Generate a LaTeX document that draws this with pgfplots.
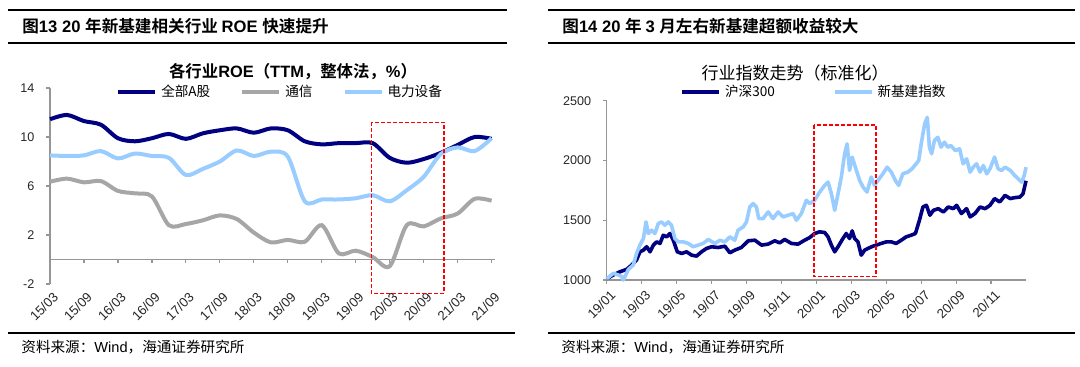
\documentclass[border=0pt]{standalone}
\usepackage{fontspec}
\usepackage{pgfplots}
\usepackage{pgfplotstable}
\pgfplotsset{compat=1.18}
\setmainfont{Liberation Sans}
\newfontfamily\cjk{Noto Sans CJK SC}
\newfontfamily\cjkb{Noto Sans CJK SC Bold}
\definecolor{navyc}{RGB}{0,0,128}
\definecolor{grayc}{RGB}{166,166,166}
\definecolor{lbluec}{RGB}{153,204,255}
\definecolor{axisc}{RGB}{150,150,150}
\definecolor{redc}{RGB}{255,0,0}

\pgfplotstableread{
q dark gray light
0 11.45 6.35 8.5
1 11.8 6.6 8.45
2 11.3 6.3 8.5
3 11.0 6.4 8.85
4 9.9 5.6 8.25
5 9.65 5.4 8.65
6 9.9 5.15 8.45
7 10.25 2.8 8.3
8 9.85 2.9 6.9
9 10.3 3.2 7.4
10 10.55 3.6 8.0
11 10.7 3.3 8.9
12 10.35 2.2 8.45
13 10.7 1.4 8.8
14 10.55 1.6 8.4
15 9.65 1.45 4.75
16 9.4 2.8 4.9
17 9.5 0.5 4.9
18 9.5 0.72 5.0
19 9.5 0.2 5.25
20 8.3 -0.55 4.75
21 7.9 2.8 5.65
22 8.2 2.7 6.75
23 8.7 3.35 8.6
24 9.35 3.75 9.15
25 10.0 4.95 8.85
26 9.85 4.8 9.9
}\roetable

\pgfplotstableread{
m v
0 1010
0.38 1042
0.76 1069
1.14 1089
1.43 1125
1.71 1167
1.9 1236
2.1 1250
2.29 1278
2.48 1236
2.67 1292
2.86 1319
3.05 1306
3.24 1375
3.43 1361
3.62 1389
3.81 1333
4.04 1236
4.29 1222
4.57 1236
4.86 1208
5.14 1200
5.43 1236
5.71 1264
6.0 1278
6.38 1272
6.76 1283
7.05 1228
7.33 1250
7.71 1272
8.1 1328
8.48 1333
8.86 1292
9.24 1300
9.62 1328
9.9 1311
10.19 1339
10.57 1306
10.95 1300
11.33 1333
11.62 1355
11.9 1389
12.19 1403
12.48 1397
12.67 1361
12.86 1292
13.05 1236
13.24 1278
13.52 1347
13.71 1389
13.9 1347
14.05 1411
14.19 1347
14.38 1319
14.57 1208
14.76 1250
14.95 1264
15.24 1283
15.43 1292
15.71 1306
16.0 1319
16.29 1319
16.57 1306
16.86 1333
17.14 1361
17.43 1375
17.67 1389
17.9 1500
18.1 1611
18.3 1625
18.5 1542
18.7 1583
18.98 1597
19.27 1569
19.55 1611
19.84 1597
20.03 1625
20.3 1556
20.6 1597
20.8 1528
21.08 1556
21.37 1611
21.66 1597
21.94 1625
22.2 1681
22.5 1653
22.8 1708
23.1 1681
23.35 1689
23.65 1694
23.83 1722
24.0 1830
}\hsdata

\pgfplotstableread{
m v
0 1010
0.38 1056
0.67 1042
0.85 1030
0.95 1000
1.05 1030
1.24 1089
1.52 1125
1.71 1222
1.9 1292
2.1 1347
2.25 1486
2.38 1389
2.57 1417
2.76 1389
2.95 1472
3.14 1486
3.33 1458
3.52 1486
3.71 1458
3.9 1347
4.1 1319
4.38 1319
4.67 1306
4.95 1278
5.24 1292
5.52 1306
5.81 1339
6.19 1306
6.48 1333
6.76 1319
7.05 1361
7.33 1333
7.52 1417
7.81 1444
8.0 1486
8.19 1611
8.38 1639
8.57 1611
8.7 1514
8.95 1514
9.24 1569
9.52 1514
9.81 1569
10.1 1528
10.38 1542
10.67 1556
10.86 1500
11.14 1556
11.43 1667
11.62 1639
11.9 1667
12.19 1736
12.48 1792
12.67 1819
12.86 1722
13.05 1583
13.24 1722
13.43 1861
13.62 2056
13.76 2139
13.9 1917
14.05 2028
14.29 1917
14.48 1833
14.67 1778
14.9 1736
15.14 1861
15.33 1792
15.52 1833
15.81 1889
16.05 1944
16.29 1903
16.52 1833
16.71 1792
16.95 1889
17.24 1903
17.48 1931
17.71 1972
17.86 2000
18.0 2139
18.2 2306
18.35 2361
18.47 2111
18.6 2056
18.76 2167
18.95 2194
19.14 2111
19.33 2153
19.52 2111
19.7 2125
19.95 2083
20.2 2097
20.4 1972
20.6 2014
20.8 1903
20.98 1944
21.17 1972
21.37 1903
21.56 1958
21.75 1889
21.94 1931
22.2 2028
22.4 1931
22.6 1917
22.8 1944
23.1 1917
23.35 1875
23.55 1847
23.75 1819
23.9 1875
24.0 1944
}\xjjdata

\pgfplotsset{
  every axis/.append style={
    scale only axis,
    clip=false,
    axis line style={axisc, line width=0.6pt},
    tick style={axisc, line width=0.6pt},
    tick align=outside,
    major tick length=1.8pt,
    tick label style={font=\fontsize{6.3}{7}\selectfont, text=black!85},
    /pgf/number format/assume math mode=true,
    /pgf/number format/1000 sep={},
    yticklabel style={xshift=-2.5pt},
    xticklabel style={rotate=45, anchor=east, font=\fontsize{6.6}{7}\selectfont},
    legend cell align=left,
  },
}

\begin{document}
\begin{tikzpicture}
\path[use as bounding box] (0,0) rectangle (540pt,183pt);

% ---------- left chart ----------
\begin{axis}[
  at={(25pt,41pt)}, anchor=south west,
  width=222.5pt, height=98pt,
  xmin=0, xmax=26.2, ymin=-2, ymax=14,
  ytick={-2,2,6,10,14},
  xtick={0,2,...,26},
  xticklabels={15/03,15/09,16/03,16/09,17/03,17/09,18/03,18/09,19/03,19/09,20/03,20/09,21/03,21/09},
  axis y line*=left, axis x line*=bottom,
  x axis line style={draw=none},
  xtick style={draw=none},
  xticklabel style={yshift=-4.5pt, xshift=3pt},
  legend columns=3,
  legend style={at={(0.148,0.98)}, anchor=west, draw=none, fill=none, inner sep=0pt,
    font=\fontsize{6.8}{8}\selectfont\cjk,
    /tikz/every even column/.append style={column sep=13pt}},
  legend image code/.code={\draw[#1] (0pt,0pt) -- (18.5pt,0pt);},
]
\draw[axisc, line width=0.6pt] (axis cs:0,0) -- (axis cs:26.2,0);
\pgfplotsinvokeforeach{0,2,4,6,8,10,12,14,16,18,20,22,24,26}{
  \draw[axisc, line width=0.6pt] (axis cs:#1,0) -- ++(0pt,-1.8pt);
}
\addplot[navyc, line width=2pt, smooth, tension=0.5] table[x=q, y=dark] {\roetable};
\addplot[grayc, line width=2pt, smooth, tension=0.5] table[x=q, y=gray] {\roetable};
\addplot[lbluec, line width=2pt, smooth, tension=0.5] table[x=q, y=light] {\roetable};
\legend{全部A股,通信,电力设备}
\draw[redc, line width=0.75pt, dash pattern=on 1.8pt off 1.2pt] (axis cs:18.92,11.2) rectangle (axis cs:23.2,-2.76);
\end{axis}

% ---------- right chart ----------
\begin{axis}[
  at={(303.35pt,43pt)}, anchor=south west,
  width=209.65pt, height=89.65pt,
  xmin=0, xmax=24, ymin=1000, ymax=2500,
  ytick={1000,1500,2000,2500},
  xtick={0,2,...,22},
  xticklabels={19/01,19/03,19/05,19/07,19/09,19/11,20/01,20/03,20/05,20/07,20/09,20/11},
  axis y line*=left, axis x line*=bottom,
  xticklabel style={yshift=-5.5pt, xshift=2.5pt},
  legend columns=2,
  legend style={at={(0.175,1.0485)}, anchor=west, draw=none, fill=none, inner sep=0pt,
    font=\fontsize{6.8}{8}\selectfont\cjk,
    /tikz/every even column/.append style={column sep=27pt}},
  legend image code/.code={\draw[#1] (0pt,0pt) -- (18.5pt,0pt);},
]
\addplot[navyc, line width=1.8pt, line join=round] table[x=m, y=v] {\hsdata};
\addplot[lbluec, line width=1.8pt, line join=round] table[x=m, y=v] {\xjjdata};
\legend{沪深300,新基建指数}
\draw[redc, line width=0.75pt, dash pattern=on 1.8pt off 1.2pt] (axis cs:11.87,2297) rectangle (axis cs:15.4,1028);
\end{axis}

% ---------- frame text and rules ----------
\begin{scope}[x=0.5pt, y=-0.5pt, yshift=183pt]
\draw[line width=1pt] (8,10) -- (507,10);
\draw[line width=0.75pt] (8,43) -- (507,43);
\draw[line width=0.75pt] (8,333) -- (515,333);
\draw[line width=1pt] (548,10) -- (1075,10);
\draw[line width=0.75pt] (548,43) -- (1075,43);
\draw[line width=0.75pt] (548,333) -- (1075,333);

\node[anchor=west, inner sep=0pt, font=\fontsize{8.3}{10}\selectfont] at (22,26)
  {{\cjkb 图}\textbf{13 20 }{\cjkb 年新基建相关行业 }\textbf{ROE }{\cjkb 快速提升}};
\node[anchor=west, inner sep=0pt, font=\fontsize{8.3}{10}\selectfont] at (562,26)
  {{\cjkb 图}\textbf{14 20 }{\cjkb 年 }\textbf{3 }{\cjkb 月左右新基建超额收益较大}};

\node[inner sep=0pt, font=\fontsize{8.2}{10}\selectfont] at (293,72)
  {{\cjkb 各行业}\textbf{ROE}{\cjkb （}\textbf{TTM}{\cjkb ，整体法，}\textbf{\%}{\cjkb ）}};
\node[inner sep=0pt, font=\fontsize{8.5}{10}\selectfont\cjk] at (795,73)
  {行业指数走势（标准化）};

\node[anchor=west, inner sep=0pt, font=\fontsize{7.3}{9}\selectfont] at (21,347)
  {{\cjk 资料来源：}Wind{\cjk ，海通证券研究所}};
\node[anchor=west, inner sep=0pt, font=\fontsize{7.3}{9}\selectfont] at (561,347)
  {{\cjk 资料来源：}Wind{\cjk ，海通证券研究所}};
\end{scope}
\end{tikzpicture}
\end{document}
